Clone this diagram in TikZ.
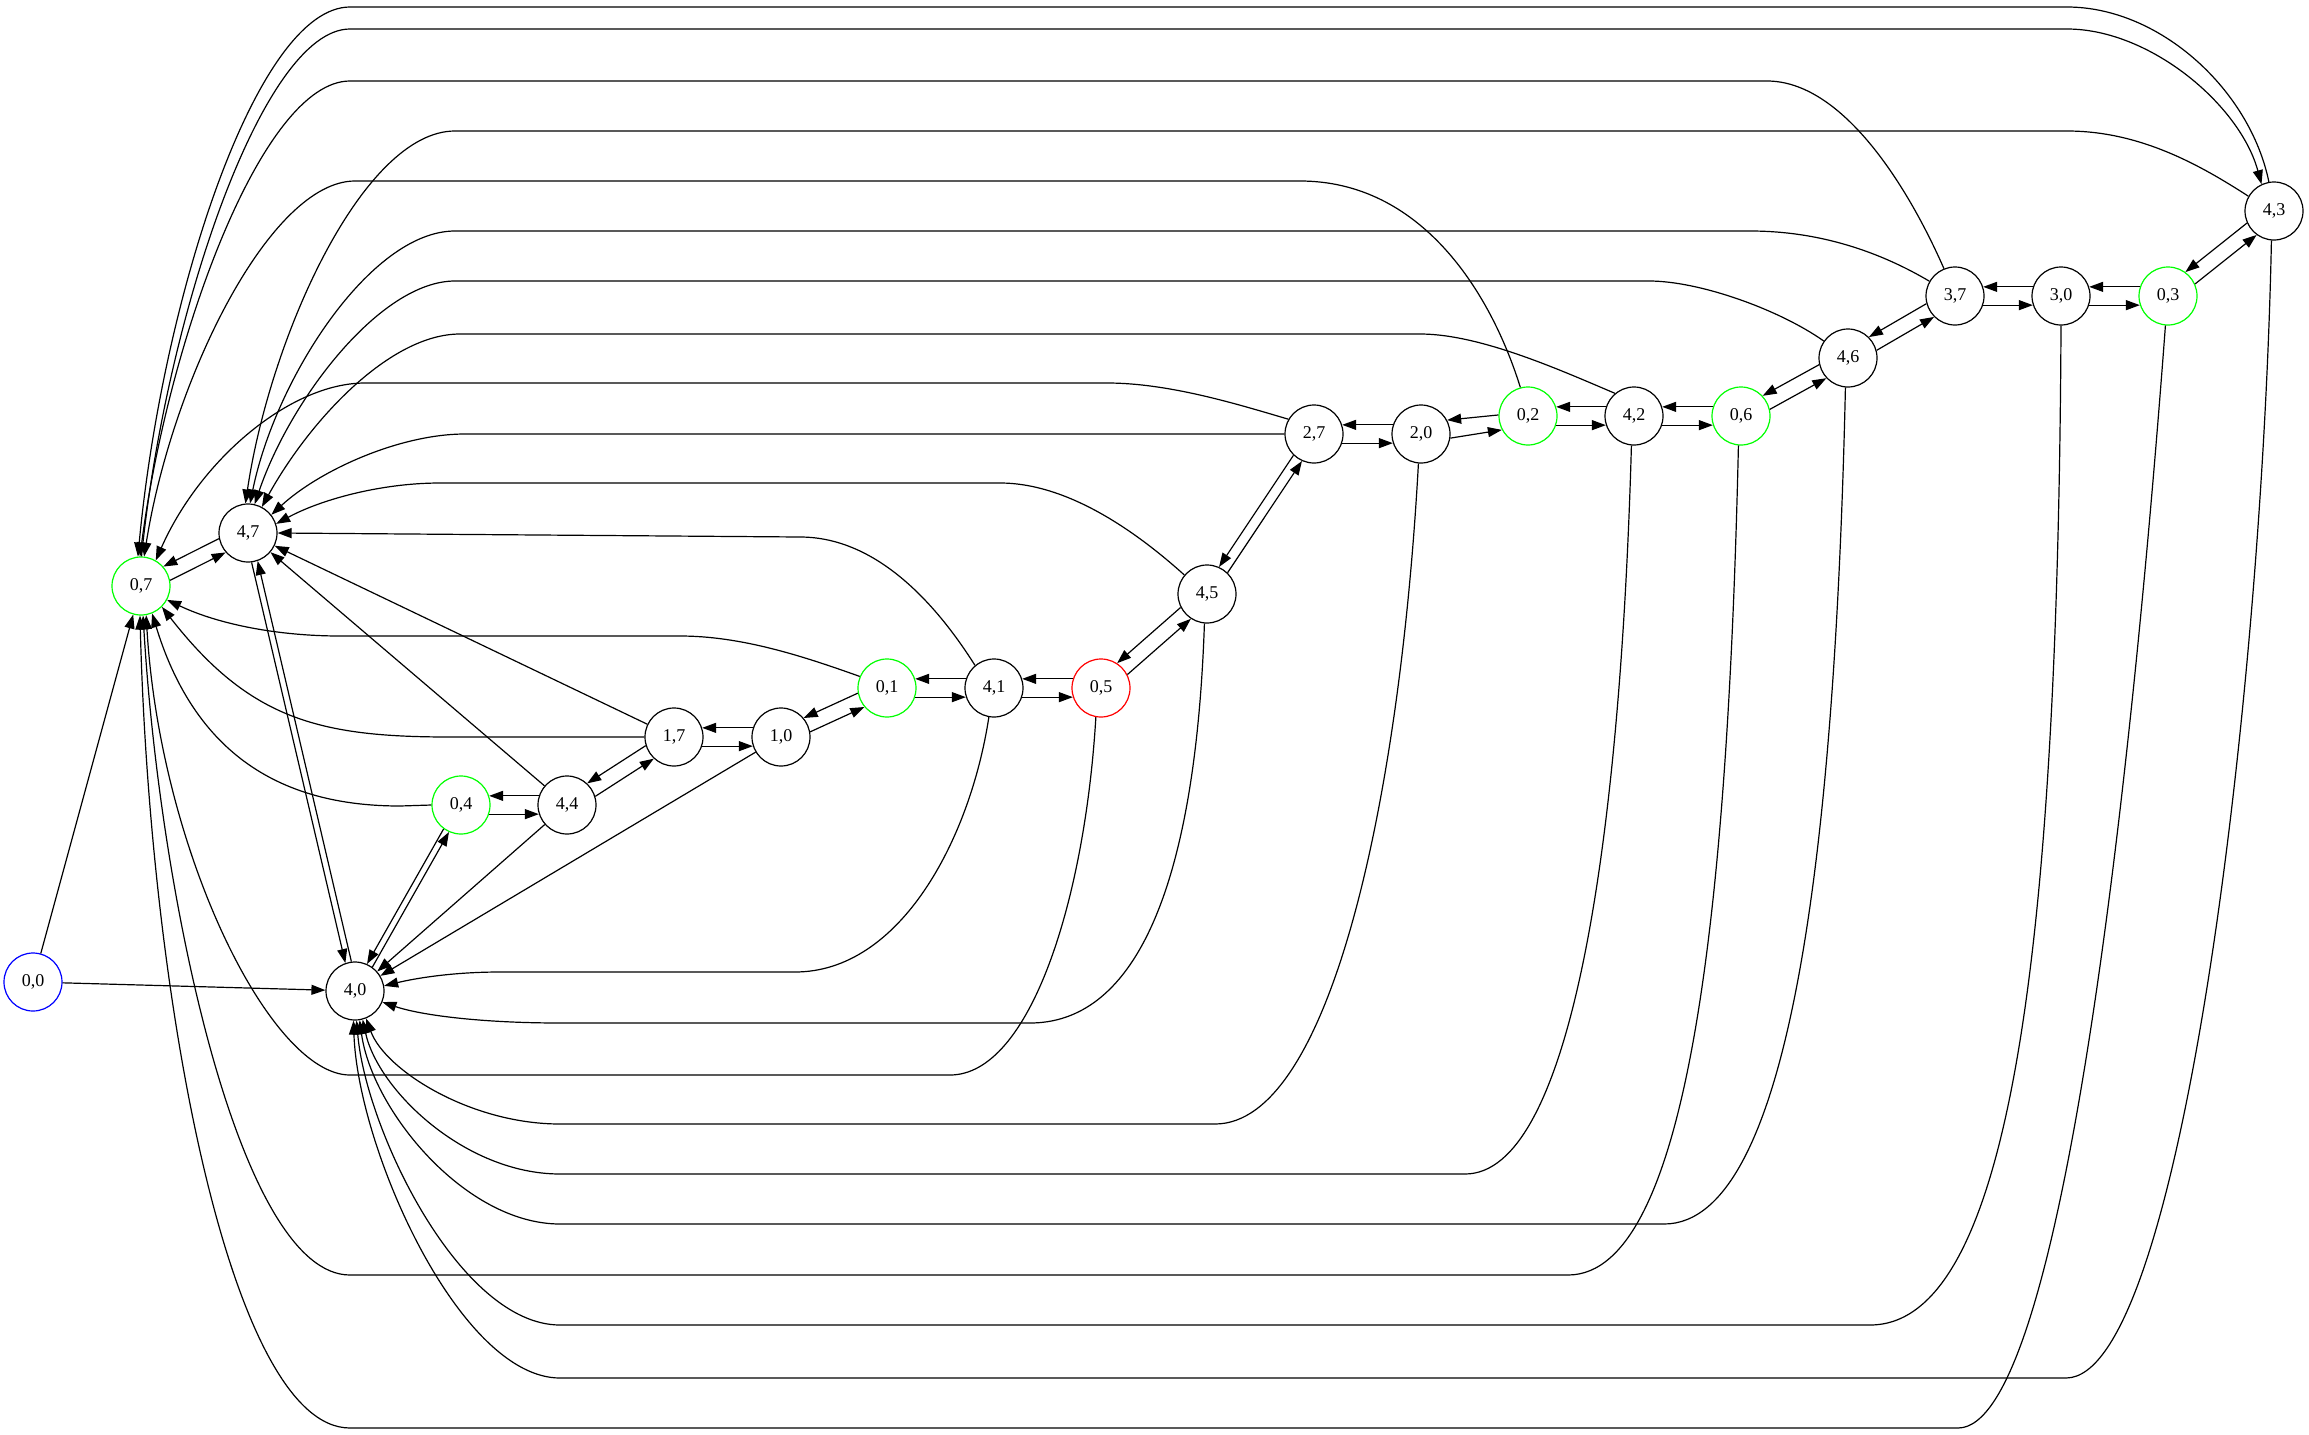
\documentclass[tikz,border=0pt]{standalone}
\usepackage{fontspec}
\setmainfont{Liberation Serif}
\usetikzlibrary{arrows.meta}
\definecolor{gvgreen}{RGB}{0,255,0}
\definecolor{gvred}{RGB}{255,0,0}
\definecolor{gvblue}{RGB}{0,0,255}
\begin{document}
\begin{tikzpicture}[x=0.5pt,y=-0.5pt,
  st/.style={circle, draw, line width=0.6pt, minimum size=29pt, inner sep=0pt, font=\fontsize{9}{9}\selectfont},
  edg/.style={line width=0.6pt, -{Triangle[length=7pt,width=5pt]}}]
\useasboundingbox (0,0) rectangle (2309,1435);
% nodes
\node[st, draw=gvblue]  (n00) at (33,982) {0,0};
\node[st, draw=gvgreen] (n07) at (141,586) {0,7};
\node[st] (n47) at (248,533) {4,7};
\node[st] (n40) at (355,991) {4,0};
\node[st, draw=gvgreen] (n04) at (461,805) {0,4};
\node[st] (n44) at (567,805) {4,4};
\node[st] (n17) at (674,737) {1,7};
\node[st] (n10) at (781,737) {1,0};
\node[st, draw=gvgreen] (n01) at (887,688) {0,1};
\node[st] (n41) at (994,688) {4,1};
\node[st, draw=gvred] (n05) at (1101,688) {0,5};
\node[st] (n45) at (1207,594) {4,5};
\node[st] (n27) at (1314,434) {2,7};
\node[st] (n20) at (1421,434) {2,0};
\node[st, draw=gvgreen] (n02) at (1528,416) {0,2};
\node[st] (n42) at (1634,416) {4,2};
\node[st, draw=gvgreen] (n06) at (1741,416) {0,6};
\node[st] (n46) at (1848,358) {4,6};
\node[st] (n37) at (1955,296) {3,7};
\node[st] (n30) at (2061,296) {3,0};
\node[st, draw=gvgreen] (n03) at (2168,296) {0,3};
\node[st] (n43) at (2274,211) {4,3};
% paired neighbour edges
\draw[edg] (n07.11) -- (n47.221);
\draw[edg] (n47.191) -- (n07.41);
\draw[edg] (n47.-83) -- (n40.109);
\draw[edg] (n40.97) -- (n47.-71);
\draw[edg] (n40.54) -- (n04.246);
\draw[edg] (n04.234) -- (n40.66);
\draw[edg] (n04.-18) -- (n44.198);
\draw[edg] (n44.162) -- (n04.18);
\draw[edg] (n44.17) -- (n17.227);
\draw[edg] (n17.197) -- (n44.47);
\draw[edg] (n17.-18) -- (n10.198);
\draw[edg] (n10.162) -- (n17.18);
\draw[edg] (n10.10) -- (n01.220);
\draw[edg] (n01.190) -- (n10.40);
\draw[edg] (n01.-18) -- (n41.198);
\draw[edg] (n41.162) -- (n01.18);
\draw[edg] (n41.-18) -- (n05.198);
\draw[edg] (n05.162) -- (n41.18);
\draw[edg] (n05.27) -- (n45.237);
\draw[edg] (n45.207) -- (n05.57);
\draw[edg] (n45.46) -- (n27.246);
\draw[edg] (n27.226) -- (n45.66);
\draw[edg] (n27.-18) -- (n20.198);
\draw[edg] (n20.162) -- (n27.18);
\draw[edg] (n20.-8) -- (n02.208);
\draw[edg] (n02.178) -- (n20.28);
\draw[edg] (n02.-18) -- (n42.198);
\draw[edg] (n42.162) -- (n02.18);
\draw[edg] (n42.-18) -- (n06.198);
\draw[edg] (n06.162) -- (n42.18);
\draw[edg] (n06.13) -- (n46.223);
\draw[edg] (n46.193) -- (n06.43);
\draw[edg] (n46.15) -- (n37.225);
\draw[edg] (n37.195) -- (n46.45);
\draw[edg] (n37.-18) -- (n30.198);
\draw[edg] (n30.162) -- (n37.18);
\draw[edg] (n30.-18) -- (n03.198);
\draw[edg] (n03.162) -- (n30.18);
\draw[edg] (n03.24) -- (n43.234);
\draw[edg] (n43.204) -- (n03.54);
% straight singles
\draw[edg] (n00) -- (n07);
\draw[edg] (n00) -- (n40);
\draw[edg] (n17) -- (n47);
\draw[edg] (n44) -- (n47);
\draw[edg] (n10) -- (n40);
\draw[edg] (n44) -- (n40);
% top routes to 0,7
\draw[edg] (n43.100) .. controls (2250,90) and (2160,7) .. (2067,7) -- (350,7) .. controls (256,7) and (162,300) .. (n07.96);
\draw[edg] (n07.89) .. controls (165,320) and (262,29) .. (350,29) -- (2067,29) .. controls (2150,29) and (2240,105) .. (n43.115);
\draw[edg] (n37.112) .. controls (1905,180) and (1840,81) .. (1767,81) -- (350,81) .. controls (262,81) and (168,340) .. (n07.92);
\draw[edg] (n02.105) .. controls (1490,290) and (1420,181) .. (1300,181) -- (355,181) .. controls (270,181) and (172,380) .. (n07.84);
\draw[edg] (n27.150) .. controls (1240,405) and (1170,383) .. (1107,383) -- (365,383) .. controls (290,383) and (200,460) .. (n07.60);
\draw[edg] (n01.157) .. controls (800,655) and (740,636) .. (680,636) -- (340,636) .. controls (280,636) and (220,625) .. (n07.-28);
\draw[edg] (n17.180) -- (450,737) .. controls (320,737) and (250,720) .. (n07.-45);
\draw[edg] (n04.180) -- (400,806) .. controls (300,806) and (200,770) .. (n07.-68);
% top routes to 4,7
\draw[edg] (n43.150) .. controls (2200,165) and (2140,131) .. (2067,131) -- (455,131) .. controls (363,131) and (270,337) .. (n47.95);
\draw[edg] (n37.150) .. controls (1880,252) and (1820,231) .. (1750,231) -- (455,231) .. controls (370,231) and (275,380) .. (n47.86);
\draw[edg] (n46.145) .. controls (1780,310) and (1700,281) .. (1649,281) -- (455,281) .. controls (380,281) and (290,400) .. (n47.77);
\draw[edg] (n42.130) .. controls (1560,370) and (1480,334) .. (1420,334) -- (460,334) .. controls (390,334) and (310,420) .. (n47.62);
\draw[edg] (n27.180) -- (465,434) .. controls (400,434) and (320,470) .. (n47.38);
\draw[edg] (n45.140) .. controls (1140,535) and (1070,483) .. (1000,483) -- (440,483) .. controls (380,483) and (320,500) .. (n47.18);
\draw[edg] (n41.130) .. controls (940,610) and (880,537) .. (800,537) -- (n47.0);
% bottom routes
\draw[edg] (n41.-100) .. controls (970,840) and (900,972) .. (795,972) -- (500,972) .. controls (440,972) and (400,982) .. (n40.10);
\draw[edg] (n45.-95) .. controls (1195,900) and (1130,1023) .. (1030,1023) -- (560,1023) .. controls (480,1023) and (420,1015) .. (n40.-22);
\draw[edg] (n05.-100) .. controls (1085,900) and (1030,1075) .. (950,1075) -- (350,1075) .. controls (270,1075) and (160,850) .. (n07.-80);
\draw[edg] (n20.-95) .. controls (1400,800) and (1330,1124) .. (1215,1124) -- (560,1124) .. controls (470,1124) and (385,1070) .. (n40.-68);
\draw[edg] (n42.-95) .. controls (1620,850) and (1570,1174) .. (1465,1174) -- (560,1174) .. controls (465,1174) and (378,1090) .. (n40.-75);
\draw[edg] (n46.-95) .. controls (1835,850) and (1790,1224) .. (1664,1224) -- (560,1224) .. controls (465,1224) and (372,1110) .. (n40.-81);
\draw[edg] (n06.-95) .. controls (1728,900) and (1690,1275) .. (1568,1275) -- (350,1275) .. controls (240,1275) and (160,900) .. (n07.-86);
\draw[edg] (n30.-90) .. controls (2058,950) and (2010,1325) .. (1870,1325) -- (560,1325) .. controls (460,1325) and (366,1130) .. (n40.-87);
\draw[edg] (n43.-95) .. controls (2262,700) and (2180,1378) .. (2066,1378) -- (560,1378) .. controls (460,1378) and (358,1150) .. (n40.-93);
\draw[edg] (n03.-95) .. controls (2130,800) and (2060,1428) .. (1958,1428) -- (350,1428) .. controls (230,1428) and (150,1000) .. (n07.-92);
\end{tikzpicture}
\end{document}
